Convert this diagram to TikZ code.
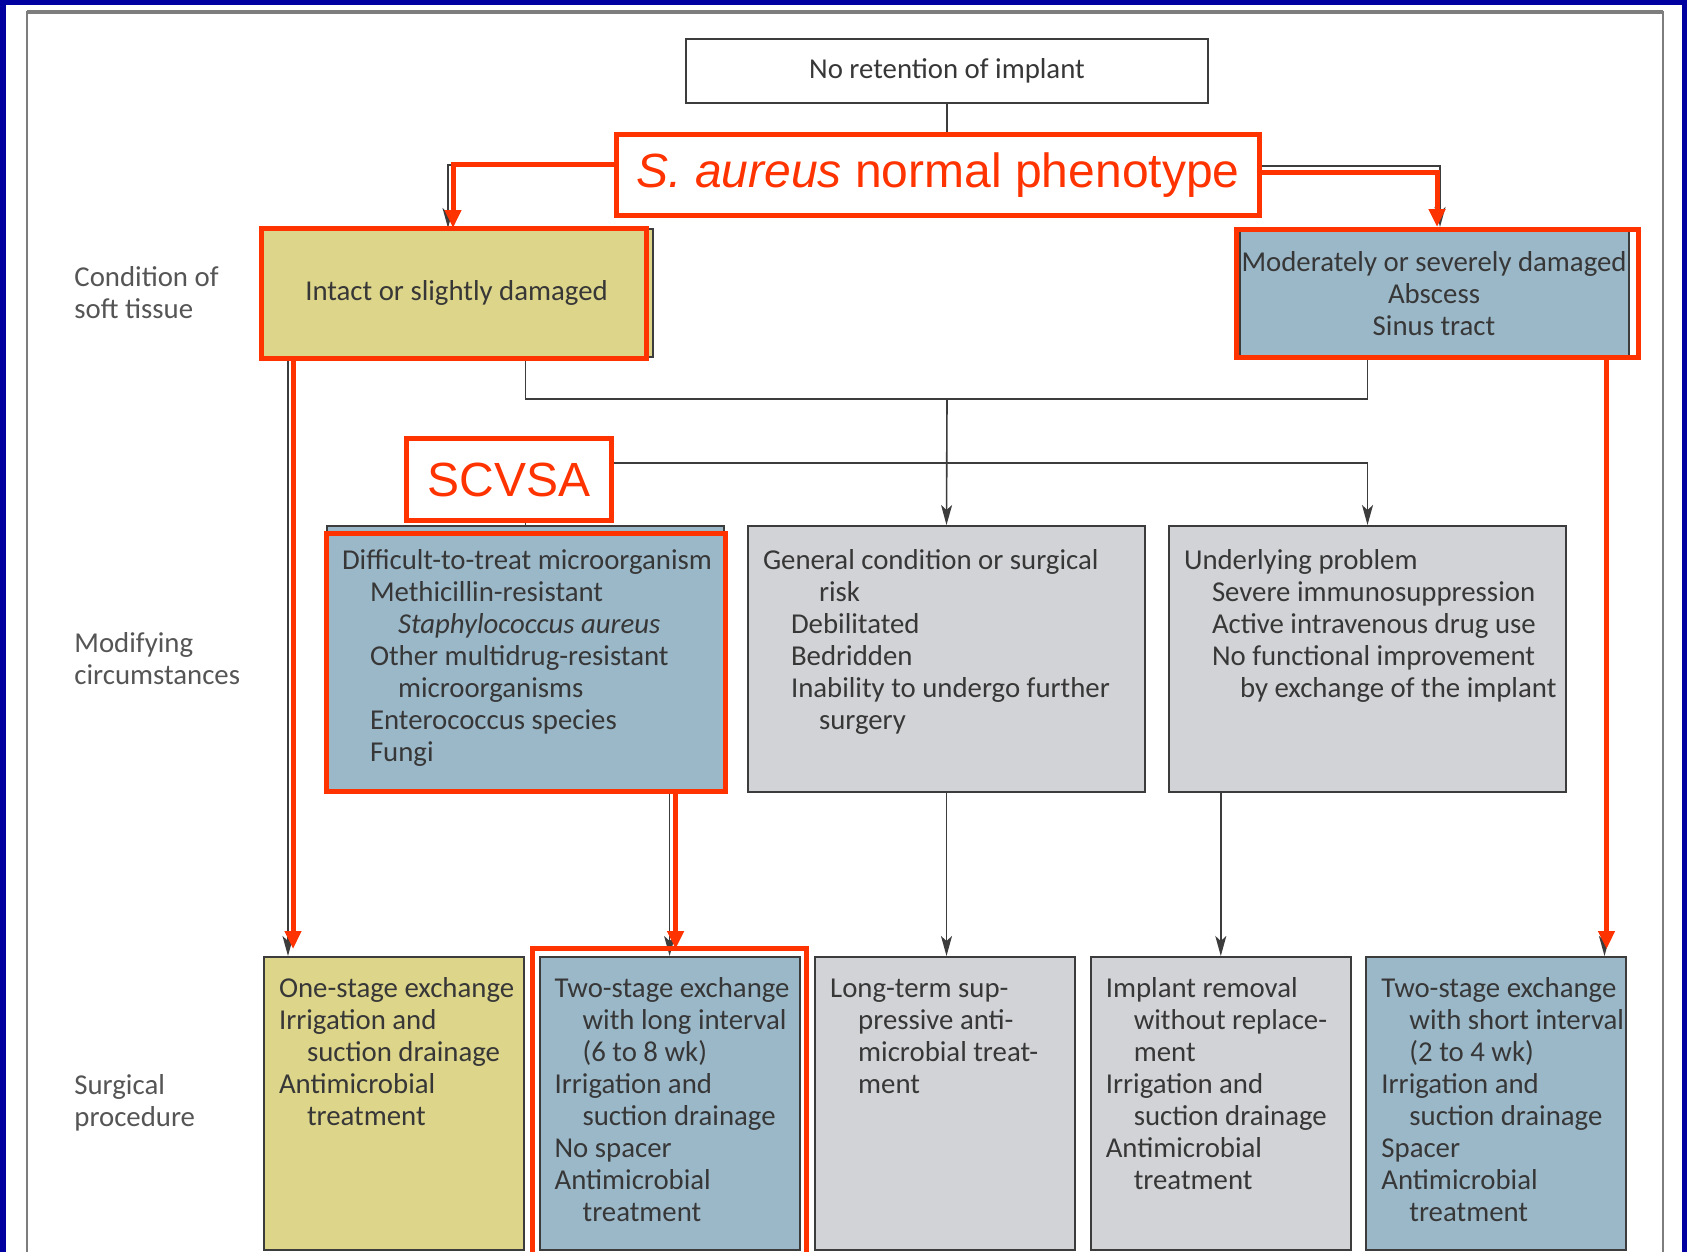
\documentclass[tikz,border=0pt]{standalone}
\usepackage{fontspec}
\setmainfont{Carlito}
\newfontfamily\arialfont{Liberation Sans}
\usepackage{xcolor}
\usepackage{tikz}
\usetikzlibrary{arrows.meta,positioning,calc}

\definecolor{slideblue}{RGB}{0,0,160}
\definecolor{framegray}{RGB}{125,125,125}
\definecolor{boxline}{RGB}{60,60,60}
\definecolor{inktext}{RGB}{55,55,55}
\definecolor{labelgray}{RGB}{85,85,85}
\definecolor{softyellow}{RGB}{221,213,138}
\definecolor{softblue}{RGB}{155,184,201}
\definecolor{softgray}{RGB}{210,211,214}
\definecolor{hlred}{RGB}{255,51,0}

\newcommand{\lvone}{\hspace*{14pt}}
\newcommand{\lvtwo}{\hspace*{28pt}}
% fixed size cell, text set from the top left corner
\newcommand{\cellbox}[4]{\parbox[c][#2][t]{#1}{\vspace*{#3}\hbox to #1{\hspace*{7.5pt}\begin{tabular}[t]{@{}l@{}}#4\end{tabular}\hss}}}

\tikzset{
	box/.style={draw=boxline, line width=1pt, inner sep=0pt, text=inktext},
	hlbox/.style={draw=hlred, line width=2.5pt, fill=white, text=hlred, inner sep=0pt,
		font=\arialfont\fontsize{24}{28}\selectfont},
	hl/.style={draw=hlred, line width=2.5pt},
	link/.style={draw=boxline, line width=0.8pt},
	arrow/.style={link, -{Stealth[length=10pt,width=5.5pt,inset=2.5pt]}},
	redarrow/.style={draw=hlred, line width=2.5pt, -{Triangle[length=9pt,width=8pt]}},
	rowlabel/.style={anchor=west, align=left, inner sep=0pt, text=labelgray}
}

\begin{document}
\begin{tikzpicture}[x=0.5pt, y=-0.5pt, font=\fontsize{14.4}{16}\selectfont,
	softbox/.style={box, inner sep=1pt, align=center},
	modbox/.style={box, fill=softgray},
	procbox/.style={box, fill=softgray},
	]
	
	\useasboundingbox (0,0) rectangle (1687,1252);
	\fill[white] (0,0) rectangle (1687,1252);
	
	%% -- Slide frame
	\fill[slideblue] (0,0) rectangle (1687,5);
	\fill[slideblue] (0,0) rectangle (6,1252);
	\fill[slideblue] (1682,0) rectangle (1687,1252);
	\draw[framegray, line width=1pt] (27,1252) -- (27,12) -- (1663,12) -- (1663,1252);
	\draw[framegray, line width=2pt] (27,12) -- (1663,12);
	
	%% -- Top
	\node[box, fill=white, minimum width=261pt, minimum height=32pt] (top) at (947,71)
	{No retention of implant};
	
	\node[hlbox, minimum width=321.5pt, minimum height=40.5pt] (pheno) at (938,175)
	{\textit{S. aureus} normal phenotype};
	
	%% -- Condition of soft tissue
	\node[softbox, fill=softyellow, minimum width=196.5pt, minimum height=64pt] (intact) at (456.5,293)
	{Intact or slightly damaged};
	
	\node[softbox, fill=softblue, minimum width=194pt, minimum height=65.5pt] (sev) at (1434,293.5)
	{Moderately or severely damaged\\Abscess\\Sinus tract};
	
	%% -- Modifying circumstances
	\node[modbox, fill=softblue] (m1) at (525.5,659)
	{\cellbox{198.5pt}{133pt}{10.3pt}{Difficult-to-treat microorganism\\
			\lvone Methicillin-resistant\\
			\lvtwo \textit{Staphylococcus aureus}\\
			\lvone Other multidrug-resistant\\
			\lvtwo microorganisms\\
			\lvone Enterococcus species\\
			\lvone Fungi}};
	
	\node[modbox, right=11pt of m1] (m2)
	{\cellbox{198.5pt}{133pt}{10.3pt}{General condition or surgical\\
			\lvtwo risk\\
			\lvone Debilitated\\
			\lvone Bedridden\\
			\lvone Inability to undergo further\\
			\lvtwo surgery}};
	
	\node[modbox, right=11pt of m2] (m3)
	{\cellbox{198.5pt}{133pt}{10.3pt}{Underlying problem\\
			\lvone Severe immunosuppression\\
			\lvone Active intravenous drug use\\
			\lvone No functional improvement\\
			\lvtwo by exchange of the implant}};
	
	%% -- Surgical procedure
	\node[procbox, fill=softyellow] (b1) at (394,1103.5)
	{\cellbox{130pt}{146.5pt}{8.8pt}{One-stage exchange\\
			Irrigation and\\
			\lvone suction drainage\\
			Antimicrobial\\
			\lvone treatment}};
	
	\node[procbox, fill=softblue, right=6.8pt of b1] (b2)
	{\cellbox{130pt}{146.5pt}{8.8pt}{Two-stage exchange\\
			\lvone with long interval\\
			\lvone (6 to 8 wk)\\
			Irrigation and\\
			\lvone suction drainage\\
			No spacer\\
			Antimicrobial\\
			\lvone treatment}};
	
	\node[procbox, right=6.8pt of b2] (b3)
	{\cellbox{130pt}{146.5pt}{8.8pt}{Long-term sup-\\
			\lvone pressive anti-\\
			\lvone microbial treat-\\
			\lvone ment}};
	
	\node[procbox, right=6.8pt of b3] (b4)
	{\cellbox{130pt}{146.5pt}{8.8pt}{Implant removal\\
			\lvone without replace-\\
			\lvone ment\\
			Irrigation and\\
			\lvone suction drainage\\
			Antimicrobial\\
			\lvone treatment}};
	
	\node[procbox, fill=softblue, right=6.8pt of b4] (b5)
	{\cellbox{130pt}{146.5pt}{8.8pt}{Two-stage exchange\\
			\lvone with short interval\\
			\lvone (2 to 4 wk)\\
			Irrigation and\\
			\lvone suction drainage\\
			Spacer\\
			Antimicrobial\\
			\lvone treatment}};
	
	%% -- Row labels
	\node[rowlabel] (lsoft) at (74,293) {Condition of\\soft tissue};
	\node[rowlabel] (lmod) at (74,659) {Modifying\\circumstances};
	\node[rowlabel] (lsurg) at (74,1103) {Surgical\\procedure};
	
	%% -- Flow (original)
	\draw[link] (top.south) -- (top.south |- pheno.north);
	\draw[arrow] ([yshift=5pt]pheno.west) -| ([xshift=-4.25pt]intact.north);
	\draw[arrow] ([yshift=4.5pt]pheno.east) -| ([xshift=3pt]sev.north);
	
	\coordinate (split) at (947,399);
	\draw[link] (intact.south -| m1.north) |- (split) -| (sev.south -| m3.north);
	\draw[arrow] (split) -- (m2.north);
	
	\coordinate (split2) at (947,463);
	\draw[arrow] (m1.north |- split2) -| (m3.north);
	\draw[link] (m1.north |- split2) -- (m1.north);
	
	\draw[arrow] ($(intact.south west)+(14.5pt,0)$) -- ($(intact.south west |- b1.north)+(14.5pt,0)$);
	\draw[arrow] (b2.north |- m1.south) -- (b2.north);
	\draw[arrow] (m2.south) -- (m2.south |- b3.north);
	\draw[arrow] (b4.north |- m3.south) -- (b4.north);
	\draw[arrow] ($(sev.south east)+(-12.5pt,0)$) -- ($(sev.south east |- b5.north)+(-12.5pt,0)$);
	
	%% -- Red highlights
	\node[hlbox, minimum width=102.5pt, minimum height=41pt] (scvsa) at (509,479.5) {SCVSA};
	
	\draw[hl] ([xshift=1.25pt]intact.north west) rectangle ([xshift=-3.75pt]intact.south east);
	\draw[hl] ([shift={(-1.25pt,-1.25pt)}]sev.north west) rectangle ([shift={(4.25pt,1.25pt)}]sev.south east);
	\draw[hl] ([yshift=-4pt]m1.north west) rectangle ([yshift=1pt]m1.south east);
	\draw[hl] ([shift={(-3pt,4pt)}]b2.north west) rectangle ([shift={(3pt,-6pt)}]b2.south east);
	
	\draw[redarrow] ([yshift=5pt]pheno.west) -| ([xshift=-1.75pt]intact.north);
	\draw[redarrow] ([yshift=1pt]pheno.east) -| ([xshift=1.5pt]sev.north);
	\draw[redarrow, shorten >=3.5pt] ($(intact.south west)+(17pt,0)$) -- ($(intact.south west |- b1.north)+(17pt,0)$);
	\draw[redarrow, shorten >=3.5pt] ($(b2.north |- m1.south)+(3pt,0)$) -- ($(b2.north)+(3pt,0)$);
	\draw[redarrow, shorten >=3.5pt] ($(sev.south east)+(-11.5pt,0)$) -- ($(sev.south east |- b5.north)+(-11.5pt,0)$);
	
\end{tikzpicture}
\end{document}
